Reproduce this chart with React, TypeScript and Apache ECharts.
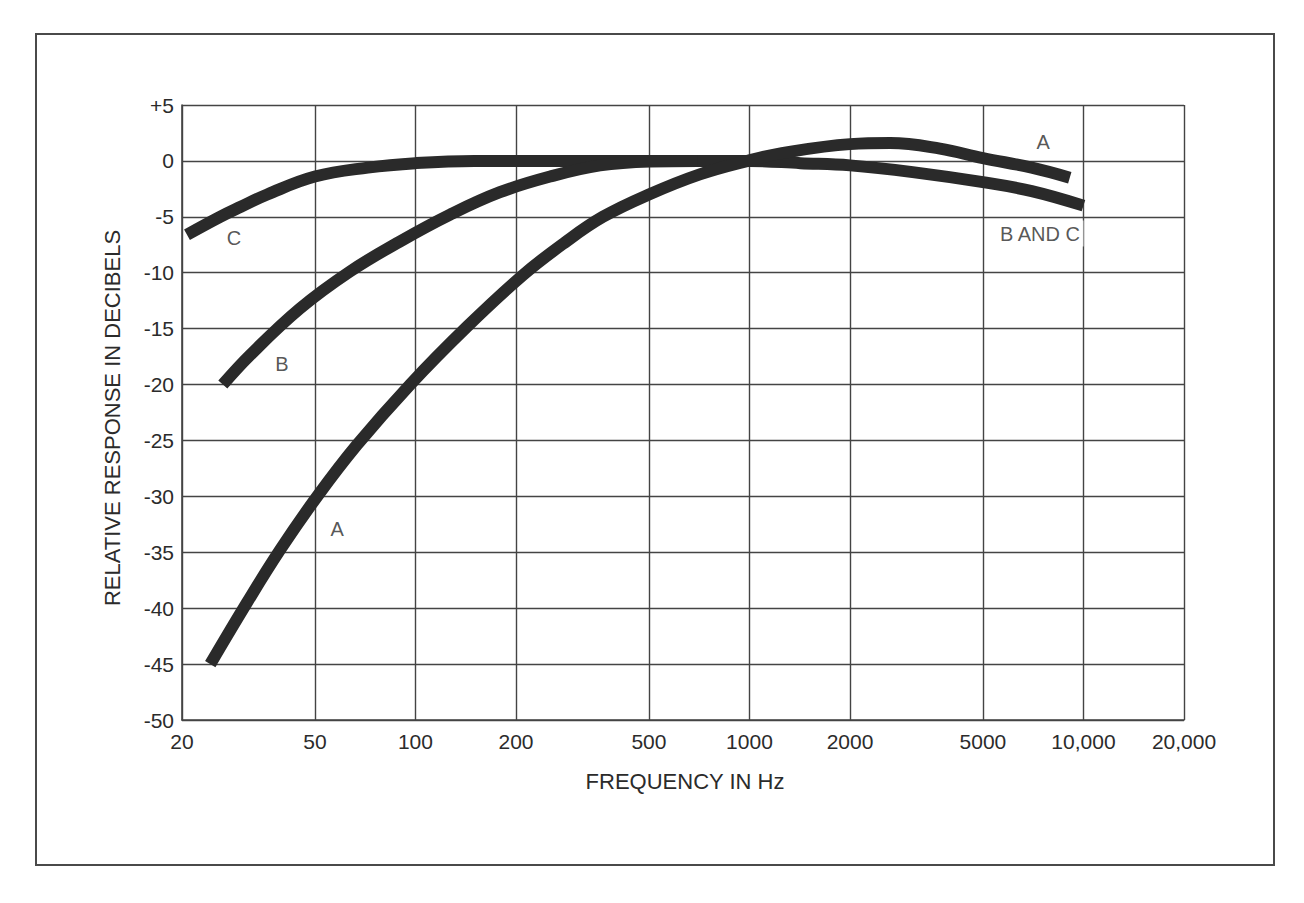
import React, { useEffect, useRef } from 'react';
import * as echarts from 'echarts';

// ---- axis ticks ----
const freqTicks = [20, 50, 100, 200, 500, 1000, 2000, 5000, 10000, 20000];
const freqTickLabels = ['20', '50', '100', '200', '500', '1000', '2000', '5000', '10,000', '20,000'];
const dbMin = -50;
const dbMax = 5;
const dbStep = 5;

// ---- curve A ----
const curveAFreq = [24.3, 31.3, 39.3, 50.8, 66.8, 96.4, 143, 210, 280, 364, 500, 710, 1000, 1250, 2000, 2640, 3720, 5000, 7000, 9100];
const curveADb = [-45, -39.5, -34.8, -30, -25.4, -20, -14.8, -10.2, -7.3, -5, -3, -1.2, 0.05, 0.7, 1.5, 1.6, 1.1, 0.25, -0.6, -1.5];

// ---- curve B ----
const curveBFreq = [26.5, 31.9, 45.1, 63.6, 89.9, 127, 179, 253, 357, 504, 700];
const curveBDb = [-20, -17.4, -13.2, -9.9, -7.2, -4.8, -2.8, -1.4, -0.4, -0.05, 0];

// ---- curve C (B and C above 500 Hz) ----
const curveCFreq = [20.7, 26, 30, 36, 50, 72, 100, 150, 200, 500, 1000, 1420, 2000, 3080, 5000, 7000, 10000];
const curveCDb = [-6.6, -5.0, -4.1, -3.0, -1.4, -0.6, -0.2, 0, 0, 0, 0, -0.2, -0.4, -1.0, -1.9, -2.7, -4.0];

// ---- curve labels (frequency, dB) ----
const labelNames = ['C', 'B', 'A', 'A', 'B AND C'];
const labelFreq = [28.6, 39.8, 58.3, 7570, 7410];
const labelDb = [-6.9, -18.2, -32.9, 1.7, -6.5];

const FONT = "'Liberation Sans', Arial, Helvetica, sans-serif";
const INK = '#2a2a2a';
const TEXT = '#2b2b2b';
const GRID = '#444444';

function zip(xs: number[], ys: number[]) {
  return xs.map((x, i) => [x, ys[i]]);
}

function curveSeries(name: string, xs: number[], ys: number[]) {
  return {
    name,
    type: 'line',
    data: zip(xs, ys),
    showSymbol: false,
    symbol: 'none',
    smooth: 0.4,
    silent: true,
    z: 3,
    lineStyle: { width: 12, color: INK, cap: 'butt', join: 'round' },
  };
}

export default function App() {
  const ref = useRef<HTMLDivElement>(null);

  useEffect(() => {
    const chart = echarts.init(ref.current!, null, { renderer: 'svg' });
    const option: any = {
      animation: false,
      backgroundColor: '#ffffff',
      grid: { left: 182, top: 105, width: 1002, height: 615, outerBoundsMode: 'none' },
      xAxis: {
        type: 'log',
        logBase: 10,
        min: 20,
        max: 20000,
        axisLine: { show: true, onZero: false, lineStyle: { color: GRID, width: 1.6 } },
        axisTick: { show: false, customValues: freqTicks },
        axisLabel: {
          customValues: freqTicks,
          margin: 11,
          color: TEXT,
          fontSize: 21,
          fontFamily: FONT,
          formatter: (v: number) => {
            const i = freqTicks.findIndex((t) => Math.abs(t - v) / t < 1e-6);
            return i >= 0 ? freqTickLabels[i] : '';
          },
        },
        splitLine: { show: true, lineStyle: { color: GRID, width: 1.4 } },
        minorTick: { show: false },
        minorSplitLine: { show: false },
      },
      yAxis: {
        type: 'value',
        min: dbMin,
        max: dbMax,
        interval: dbStep,
        axisLine: { show: true, lineStyle: { color: GRID, width: 1.6 } },
        axisTick: { show: false },
        axisLabel: {
          margin: 8,
          color: TEXT,
          fontSize: 21,
          fontFamily: FONT,
          formatter: (v: number) => (v > 0 ? '+' + v : String(v)),
        },
        splitLine: { show: true, lineStyle: { color: GRID, width: 1.4 } },
      },
      series: [
        curveSeries('C', curveCFreq, curveCDb),
        curveSeries('B', curveBFreq, curveBDb),
        curveSeries('A', curveAFreq, curveADb),
        {
          name: 'labels',
          type: 'scatter',
          silent: true,
          z: 4,
          symbolSize: 1,
          itemStyle: { color: 'rgba(0,0,0,0)' },
          data: labelNames.map((n, i) => ({
            name: n,
            value: [labelFreq[i], labelDb[i]],
            label:
              n === 'B AND C'
                ? { backgroundColor: '#ffffff', padding: [3, 3, 3, 3] }
                : undefined,
          })),
          label: {
            show: true,
            position: 'inside',
            formatter: '{b}',
            color: TEXT,
            fontSize: 20,
            fontFamily: FONT,
          },
        },
      ],
      graphic: [
        {
          type: 'rect',
          silent: true,
          z: 0,
          shape: { x: 36, y: 34, width: 1238, height: 831 },
          style: { fill: 'none', stroke: '#4a4a4a', lineWidth: 2 },
        },
        {
          type: 'text',
          x: 685,
          y: 781,
          silent: true,
          style: {
            text: 'FREQUENCY IN Hz',
            font: `22px ${FONT}`,
            fill: TEXT,
            align: 'center',
            verticalAlign: 'middle',
            textAlign: 'center',
            textVerticalAlign: 'middle',
          },
        },
        {
          type: 'text',
          x: 112,
          y: 418,
          rotation: Math.PI / 2,
          silent: true,
          style: {
            text: 'RELATIVE RESPONSE IN DECIBELS',
            font: `22px ${FONT}`,
            fill: TEXT,
            align: 'center',
            verticalAlign: 'middle',
            textAlign: 'center',
            textVerticalAlign: 'middle',
          },
        },
      ],
    };
    chart.setOption(option);
    return () => chart.dispose();
  }, []);

  return (
    <div
      ref={ref}
      style={{ position: 'fixed', left: 0, top: 0, width: 1304, height: 903, background: '#ffffff' }}
    />
  );
}
